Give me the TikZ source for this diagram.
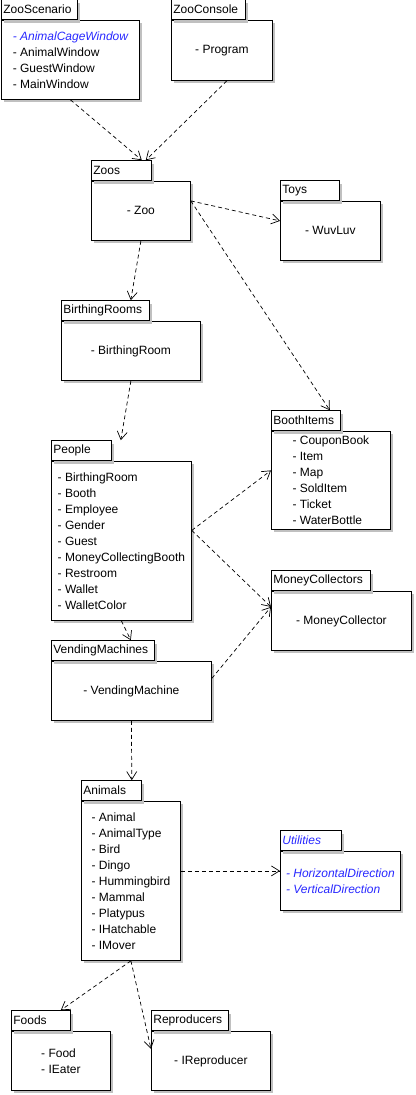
\documentclass[tikz,border=0pt]{standalone}
\usepackage{fontspec}
\setmainfont{Liberation Sans}
\usetikzlibrary{arrows.meta,shadows}
\definecolor{umlblue}{RGB}{40,40,255}
\definecolor{shadowgray}{RGB}{192,192,192}
\begin{document}
\begin{tikzpicture}[x=1pt,y=-1pt,
  every node/.style={font=\fontsize{12}{16}\selectfont},
  box/.style={draw, line width=0.8pt, fill=white,
    drop shadow={shadow xshift=3pt, shadow yshift=-3pt, fill=shadowgray, opacity=1},
    inner sep=0pt},
  body/.style={box, align=left, anchor=north west},
  tab/.style={box, anchor=south west, minimum height=20pt, inner xsep=2pt, inner ysep=0pt,
    text width=#1, align=left},
  blueit/.style={text=umlblue, font=\fontsize{12}{16}\selectfont\itshape},
  dep/.style={draw, line width=0.7pt, dash pattern=on 4pt off 3pt,
    -{Straight Barb[length=8pt,width=10pt,line width=0.7pt]}}]
\useasboundingbox (0,0) rectangle (415,1095);

% ZooScenario
\node[body, minimum width=138pt, minimum height=79pt] (zs) at (1,20)
  {{\color{umlblue}\itshape - AnimalCageWindow}\\- AnimalWindow\\- GuestWindow\\- MainWindow};
\node[tab=72pt] (zstab) at (zs.north west) {ZooScenario};

% ZooConsole
\node[body, minimum width=101pt, minimum height=60pt] (zc) at (171,20) {- Program};
\node[tab=70pt] (zctab) at (zc.north west) {ZooConsole};

% Zoos
\node[body, minimum width=99pt, minimum height=59pt] (zoos) at (91,181) {- Zoo};
\node[tab=56pt] (zoostab) at (zoos.north west) {Zoos};

% Toys
\node[body, minimum width=100pt, minimum height=59pt] (toys) at (280,201) {- WuvLuv};
\node[tab=55pt] (toystab) at (toys.north west) {Toys};

% BirthingRooms
\node[body, minimum width=139pt, minimum height=59pt] (br) at (61,321) {- BirthingRoom};
\node[tab=84pt] (brtab) at (br.north west) {BirthingRooms};

% BoothItems
\node[body, minimum width=119pt, minimum height=98pt] (bi) at (271,431)
  {- CouponBook\\- Item\\- Map\\- SoldItem\\- Ticket\\- WaterBottle};
\node[tab=65pt] (bitab) at (bi.north west) {BoothItems};

% People
\node[body, minimum width=140pt, minimum height=159pt] (people) at (51,461)
  {- BirthingRoom\\- Booth\\- Employee\\- Gender\\- Guest\\- MoneyCollectingBooth\\- Restroom\\- Wallet\\- WalletColor};
\node[tab=56pt] (peopletab) at (people.north west) {People};

% MoneyCollectors
\node[body, minimum width=140pt, minimum height=59pt] (mc) at (271,591) {- MoneyCollector};
\node[tab=95pt] (mctab) at (mc.north west) {MoneyCollectors};

% VendingMachines
\node[body, minimum width=160pt, minimum height=59pt] (vm) at (51,661) {- VendingMachine};
\node[tab=99pt] (vmtab) at (vm.north west) {VendingMachines};

% Animals
\node[body, minimum width=99pt, minimum height=159pt] (animals) at (81,801)
  {- Animal\\- AnimalType\\- Bird\\- Dingo\\- Hummingbird\\- Mammal\\- Platypus\\- IHatchable\\- IMover};
\node[tab=56pt] (animalstab) at (animals.north west) {Animals};

% Utilities
\node[body, minimum width=120pt, minimum height=59pt, text=umlblue, font=\fontsize{12}{16}\selectfont\itshape] (util) at (280,851)
  {- HorizontalDirection\\- VerticalDirection};
\node[tab=57pt, text=umlblue, font=\fontsize{12}{16}\selectfont\itshape] (utiltab) at (util.north west) {Utilities};

% Foods
\node[body, minimum width=99pt, minimum height=59pt] (foods) at (11,1031) {- Food\\- IEater};
\node[tab=55pt] (foodstab) at (foods.north west) {Foods};

% Reproducers
\node[body, minimum width=119pt, minimum height=59pt] (repro) at (151,1031) {- IReproducer};
\node[tab=73pt] (reprotab) at (repro.north west) {Reproducers};

% dependencies
\draw[dep] (zs.south) -- ([xshift=-10pt]zoostab.north east);
\draw[dep] ([xshift=5pt]zc.south) -- ([xshift=-6pt]zoostab.north east);
\draw[dep] ([yshift=10pt]zoos.east) -- ([yshift=10pt]toys.west);
\draw[dep] ([yshift=10pt]zoos.east) -- ([xshift=-11pt]bitab.north east);
\draw[dep] (zoos.south) -- ([xshift=-19pt]brtab.north east);
\draw[dep] (br.south) -- ([xshift=9pt]peopletab.north east);
\draw[dep] ([yshift=10.5pt]people.east) -- ([yshift=10pt]bi.west);
\draw[dep] ([yshift=10.5pt]people.east) -- ([yshift=14pt]mc.west);
\draw[dep] (people.south) -- ([xshift=-24pt]vmtab.north east);
\draw[dep] ([yshift=12.5pt]vm.east) -- ([yshift=14pt]mc.west);
\draw[dep] (vm.south) -- ([xshift=-10pt]animalstab.north east);
\draw[dep] ([yshift=10pt]animals.east) -- ([yshift=10pt]util.west);
\draw[dep] (animals.south) -- ([xshift=-10pt]foodstab.north east);
\draw[dep] (animals.south) -- ([yshift=12pt]repro.west);
\end{tikzpicture}
\end{document}
